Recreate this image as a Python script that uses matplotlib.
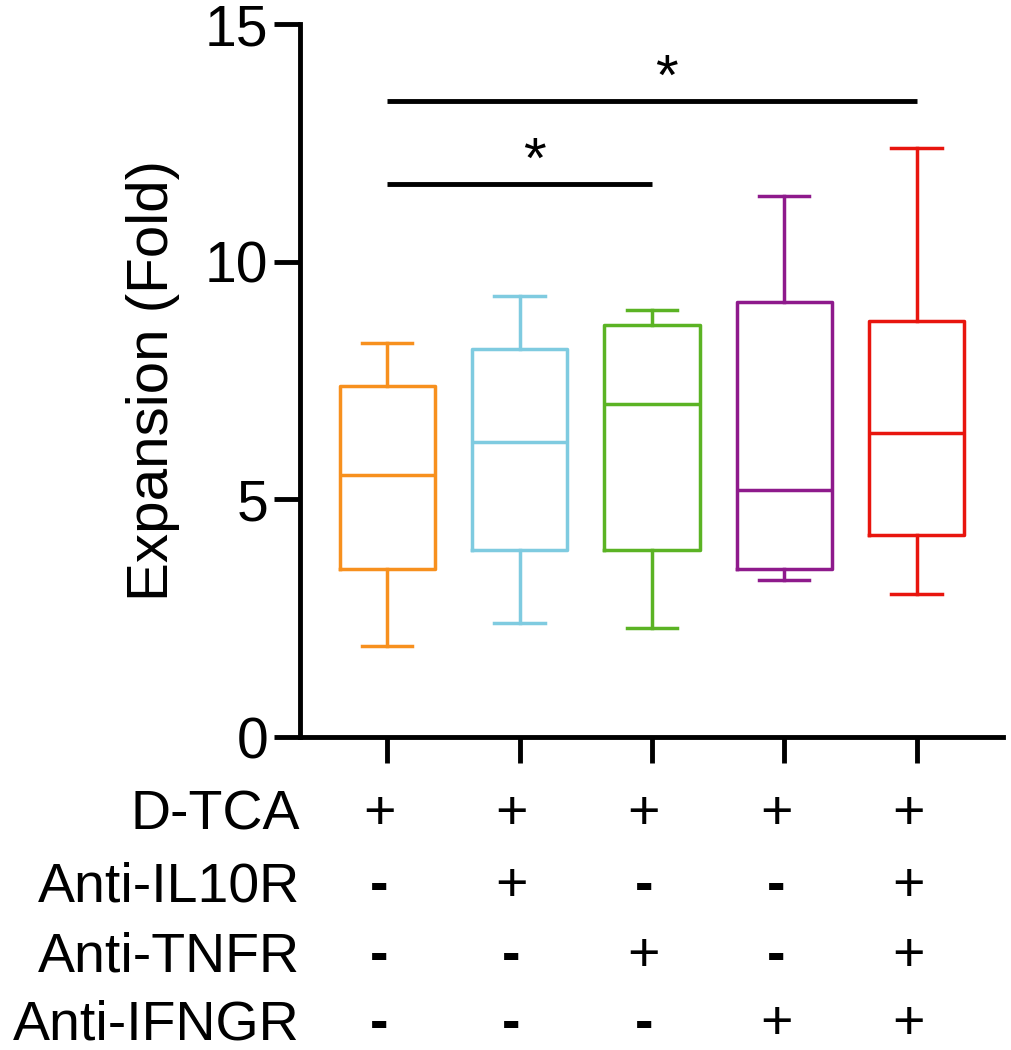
import numpy as np
import matplotlib
matplotlib.use("Agg")
import matplotlib.pyplot as plt

plt.rcParams['font.family'] = ['Liberation Sans', 'DejaVu Sans']

# box statistics
whislo = [1.91, 2.40, 2.30, 3.30, 3.02]
q1 = [3.54, 3.94, 3.94, 3.54, 4.26]
med = [5.52, 6.21, 7.01, 5.20, 6.40]
q3 = [7.38, 8.16, 8.66, 9.15, 8.76]
whishi = [8.29, 9.29, 8.99, 11.39, 12.39]
colors = ['#F7901E', '#7FCBE0', '#5BB324', '#8E1A8C', '#E8150E']

row_names = ['D-TCA', 'Anti-IL10R', 'Anti-TNFR', 'Anti-IFNGR']
signs = [['+', '+', '+', '+', '+'],
         ['-', '+', '-', '-', '+'],
         ['-', '-', '+', '-', '+'],
         ['-', '-', '-', '+', '+']]

# significance bars: (from, to, y, star x)
sig = [(0, 4, 13.38, 2.11), (0, 2, 11.63, 1.11)]

fig = plt.figure(figsize=(10.11, 10.5), dpi=100)
ax = fig.add_axes([0.2967, 0.298, 0.695, 0.679])

pos = np.arange(len(med))
stats = []
for i in range(len(med)):
    stats.append(dict(whislo=whislo[i], q1=q1[i], med=med[i], q3=q3[i], whishi=whishi[i], fliers=[]))

bp = ax.bxp(stats, positions=pos, widths=0.72, capwidths=0.38, showfliers=False, patch_artist=False)
for i, c in enumerate(colors):
    bp['boxes'][i].set(color=c, linewidth=2.5)
    bp['medians'][i].set(color=c, linewidth=2.5)
    for w in bp['whiskers'][2 * i:2 * i + 2]:
        w.set(color=c, linewidth=2.5)
    for cp in bp['caps'][2 * i:2 * i + 2]:
        cp.set(color=c, linewidth=2.5)

for a, b, y, sx in sig:
    ax.plot([a, b], [y, y], color='black', linewidth=3.5, solid_capstyle='butt')
    ax.text(sx, y - 0.12, '*', ha='center', va='bottom', fontsize=42)

ax.set_xlim(-0.66, 4.65)
ax.set_ylim(0, 15)
ax.set_yticks([0, 5, 10, 15])
ax.set_xticks(pos)
ax.set_xticklabels([])
ax.tick_params(axis='y', labelsize=41, length=19, width=3.5, pad=4)
ax.tick_params(axis='x', length=19, width=3.5)
for s in ['top', 'right']:
    ax.spines[s].set_visible(False)
for s in ['left', 'bottom']:
    ax.spines[s].set_linewidth(3.5)
ax.set_ylabel('Expansion (Fold)', fontsize=42, labelpad=18)

# treatment table below the axis
row_y = [815, 887, 957, 1025]
for r, name in enumerate(row_names):
    yf = 1 - row_y[r] / 1050
    fig.text(300 / 1011, yf, name, ha='right', va='center', fontsize=40)
    for i in range(len(pos)):
        xf = ax.transData.transform((pos[i], 0))[0] / fig.bbox.width
        fig.text(xf - 0.008, yf, signs[r][i], ha='center', va='center', fontsize=40,
                 fontweight='bold' if signs[r][i] == '-' else 'normal')

fig.savefig('out.png', dpi=100)
